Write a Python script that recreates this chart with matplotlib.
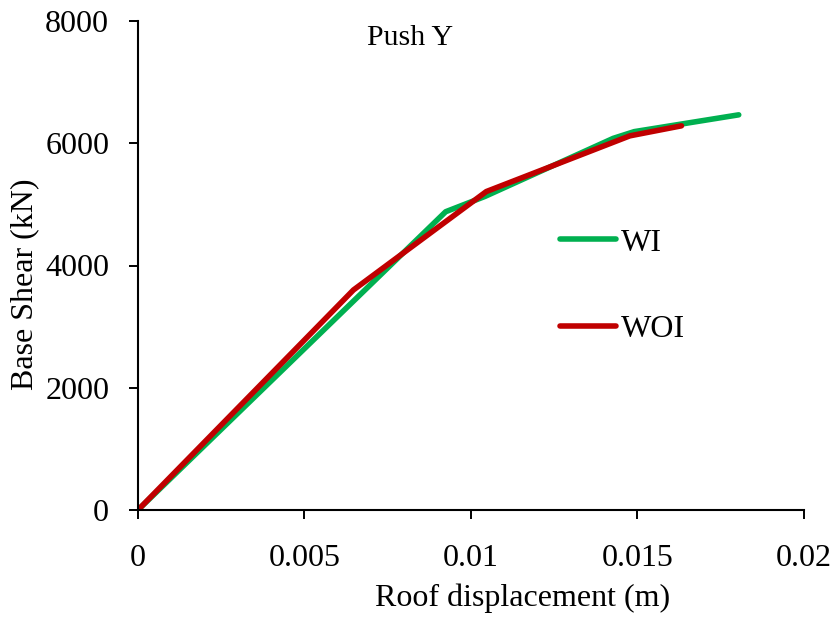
import matplotlib
matplotlib.use("Agg")
import matplotlib.pyplot as plt

# Data
wi_x = [0, 0.00924, 0.01042, 0.01427, 0.0149, 0.01804]
wi_y = [0, 4880, 5130, 6080, 6190, 6465]
woi_x = [0, 0.00647, 0.01046, 0.01477, 0.01632]
woi_y = [0, 3600, 5210, 6121, 6285]
x_ticks = [0, 0.005, 0.01, 0.015, 0.02]
x_tick_labels = ["0", "0.005", "0.01", "0.015", "0.02"]
y_ticks = [0, 2000, 4000, 6000, 8000]

plt.rcParams['font.family'] = ['Liberation Serif', 'DejaVu Serif']

fig = plt.figure(figsize=(8.37, 6.19), dpi=100)
ax = fig.add_axes([138/837, 1-510/619, (804-138)/837, (510-21)/619])

ax.plot(wi_x, wi_y, color='#00B050', lw=4, solid_capstyle='round', solid_joinstyle='round', label='WI')
ax.plot(woi_x, woi_y, color='#C00000', lw=4, solid_capstyle='round', solid_joinstyle='round', label='WOI')

ax.set_xlim(0, 0.02)
ax.set_ylim(0, 8000)
ax.set_xticks(x_ticks)
ax.set_xticklabels(x_tick_labels)
ax.set_yticks(y_ticks)
ax.set_yticklabels([str(v) for v in y_ticks])

for s in ['top', 'right']:
    ax.spines[s].set_visible(False)
for s in ['left', 'bottom']:
    ax.spines[s].set_linewidth(1.5)

ax.tick_params(axis='both', direction='out', length=6.7, width=1.4, labelsize=23, colors='black')
ax.tick_params(axis='x', pad=18)
ax.tick_params(axis='y', pad=14)

ax.set_xlabel('Roof displacement (m)', fontsize=23)
ax.xaxis.set_label_coords(0.577, -0.18)
ax.xaxis.label.set_va('center')
ax.set_ylabel('Base Shear (kN)', fontsize=23)
ax.yaxis.set_label_coords(-0.17, 0.462)
ax.yaxis.label.set_va('center')

ax.text(0.408, 0.966, 'Push Y', transform=ax.transAxes, ha='center', va='center', fontsize=21.5)

leg = ax.legend(loc='center left', bbox_to_anchor=(0.634, 0.458), frameon=False,
                fontsize=23, handlelength=1.75, handletextpad=0.15, labelspacing=1.78,
                borderpad=0, borderaxespad=0)

fig.savefig('out.png', dpi=100)
